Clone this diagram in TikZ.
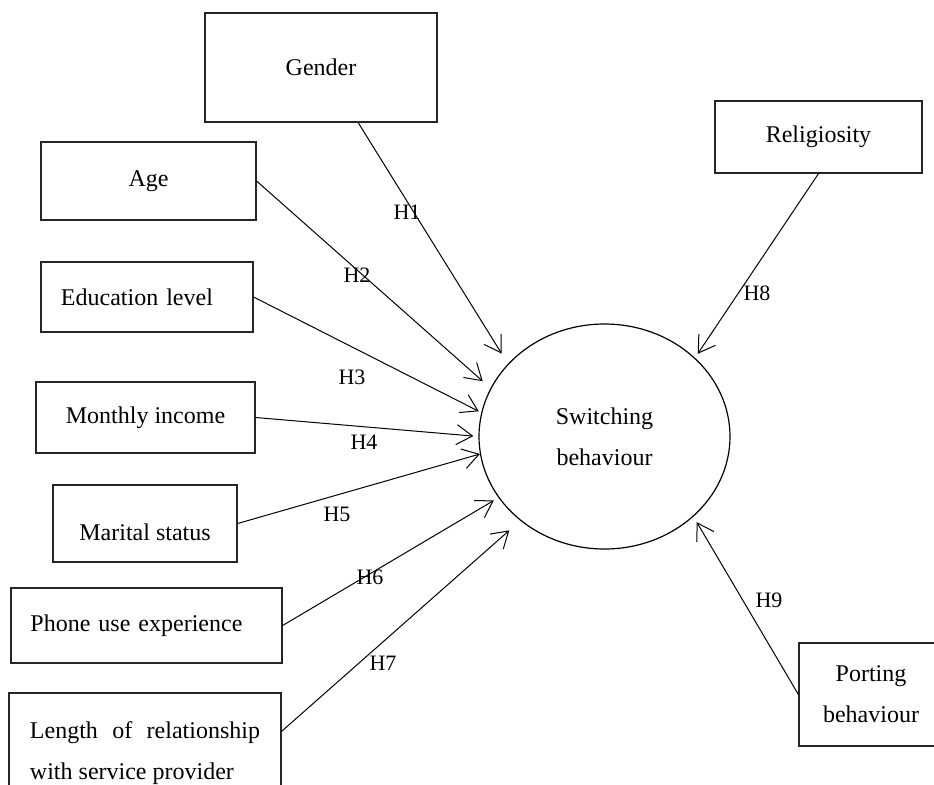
\documentclass[tikz,border=0pt]{standalone}
\usepackage{fontspec}
\setmainfont{Liberation Serif}
\usepackage{tikz}
\usetikzlibrary{arrows.meta}
\usetikzlibrary{shapes.geometric}
\tikzset{var/.style = {draw=black!85, rectangle, line width=0.6pt,
                       inner sep=0pt, align=center},
         hyp/.style = {-{Straight Barb[length=8pt, width=10pt]}, line width=0.5pt},
         hlabel/.style = {font=\fontsize{11}{13}\selectfont, inner sep=1pt}}

\begin{document}
\begin{tikzpicture}[x=0.5pt, y=-0.5pt, font=\fontsize{12}{20.5}\selectfont]
      \useasboundingbox (0, 0) rectangle (934, 784);
      \clip (0, 0) rectangle (934, 784);

      \node [var, minimum width=116pt, minimum height=54.5pt] (gender) at (321, 67.5) {Gender};
      \node [var, minimum width=107.5pt, minimum height=39pt] (age) at (148.5, 181) {Age};
      \node [var, minimum height=35pt, text width=86pt, inner xsep=10pt, align=left] (edu) at (147, 297) {Education level};
      \node [var, minimum width=109.5pt, minimum height=35.5pt] (income) at (145.5, 417.5) {Monthly income};
      \node [var, minimum width=92pt, minimum height=38.5pt, text height=16.5pt, text depth=0pt] (marital) at (145, 523.5) {Marital status};
      \node [var, minimum height=37.5pt, text width=116pt, inner xsep=9.75pt, align=left] (phone) at (146.5, 625.5) {Phone use experience};
      \node [var, minimum height=60pt, text width=115pt, inner xsep=10.5pt, align=justify] (length) at (145, 753) {Length of relationship with service provider};
      \node [var, minimum width=103.5pt, minimum height=36pt] (relig) at (818.5, 137) {Religiosity};
      \node [var, minimum width=72pt, minimum height=51.5pt] (porting) at (871, 694.5) {Porting\\behaviour};

      \node [draw, ellipse, line width=0.6pt, minimum width=125.5pt, minimum height=112.5pt, align=center] (switch) at (604.5, 436.5) {Switching\\behaviour};

      \draw [hyp, shorten >=6pt] (gender.-56.55) -- (switch.143.75);
      \draw [hyp, shorten >=5.2pt] (age.east) -- (switch.157.3);
      \draw [hyp, shorten >=1.4pt] (edu.east) -- (switch.169.8);
      \draw [hyp, shorten >=2.5pt] (income.east) -- (switch.180.4);
      \draw [hyp] (marital.east) -- (switch.188.8);
      \draw [hyp, shorten >=2.7pt] (phone.east) -- (switch.210.5);
      \draw [hyp, shorten >=7.3pt] (length.9.2) -- (switch.225.8);
      \draw [hyp, shorten >=2.4pt] (relig.south) -- (switch.41.8);
      \draw [hyp, shorten >=3.2pt] (porting.west) -- (switch.-42.2);

      \node [hlabel] (h1) at (407, 212) {H1};
      \node [hlabel] (h2) at (357, 275) {H2};
      \node [hlabel] (h3) at (352, 377) {H3};
      \node [hlabel] (h4) at (364, 442) {H4};
      \node [hlabel] (h5) at (337, 514) {H5};
      \node [hlabel] (h6) at (370, 577) {H6};
      \node [hlabel] (h7) at (383, 663) {H7};
      \node [hlabel] (h8) at (757, 293) {H8};
      \node [hlabel] (h9) at (769, 600) {H9};

    \end{tikzpicture}
\end{document}
